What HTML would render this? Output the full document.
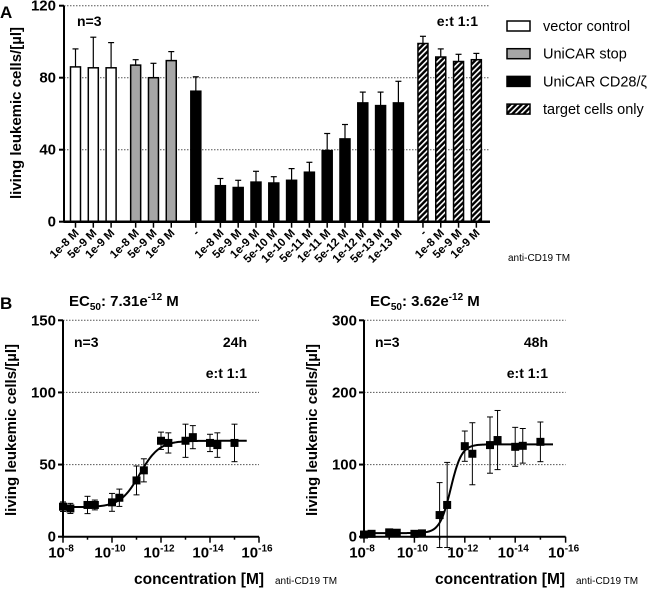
<!DOCTYPE html>
<html><head><meta charset="utf-8">
<style>
body{margin:0;background:#fff;width:650px;height:590px;overflow:hidden}
svg{display:block;font-family:"Liberation Sans",Arial,sans-serif}
</style></head>
<body>
<svg id="fig" width="650" height="590">
<defs>
<pattern id="hatch" patternUnits="userSpaceOnUse" width="4" height="4" patternTransform="rotate(45)">
<rect width="4" height="4" fill="#000"/><rect x="0" width="1.6" height="4" fill="#fff"/>
</pattern>
</defs>
</svg>
<script>
// ---------- Panel A data ----------
const groupTypes = ["vector", "stop", "cd28", "cd28", "target"];
const groupLabels = [
  ["1e-8 M","5e-9 M","1e-9 M"],
  ["1e-8 M","5e-9 M","1e-9 M"],
  ["-"],
  ["1e-8 M","5e-9 M","1e-9 M","5e-10 M","1e-10 M","5e-11 M","1e-11 M","5e-12 M","1e-12 M","5e-13 M","1e-13 M"],
  ["-","1e-8 M","5e-9 M","1e-9 M"]
];
const groupValues = [
  [86,85.5,85.5],
  [87,80,89.5],
  [72.5],
  [20,19,22,21.5,23,27.5,39.5,46,66,64.5,66],
  [99,91.5,89,90]
];
const groupErrors = [
  [10,17,14],
  [3,8,5],
  [8],
  [4,4,6,3.5,6.5,5.5,9.5,8,6,7.5,12],
  [4,4.5,4,3.5]
];
const aTicks = [0,40,80,120];
const legendLabels = ["vector control","UniCAR stop","UniCAR CD28/ζ","target cells only"];

// ---------- Panel B data ----------
const bConcLog = [-8,-8.3,-9,-9.3,-10,-10.3,-11,-11.3,-12,-12.3,-13,-13.3,-14,-14.3,-15];
const b24Values = [20.8,19.6,22,22,23.8,27,39,46,66.5,65,66.5,69,65,63.5,65];
const b24Errors = [3.3,3.5,6,3.4,6.2,6,10,8,6,7,11.5,8,6,8.5,13];
const b48Values = [3,4,6,5.5,4,4.6,30,44,125.5,115,127,134,124.6,126,131.5];
const b48Errors = [0,0,0,0,0,0,45,59,21,43,39,41,27,24,27.5];
const b24Fit = {bottom:20.5, top:66.5, logEC50:-11.136, hill:1.1};
const b48Fit = {bottom:5, top:128, logEC50:-11.44, hill:2.0};
const b24Ticks = [0,50,100,150];
const b48Ticks = [0,100,200,300];
const xExpTicks = [-8,-10,-12,-14,-16];

const svg = document.getElementById('fig');
const NS = "http://www.w3.org/2000/svg";
function mk(tag, attrs, parent){
  const e = document.createElementNS(NS, tag);
  for (const k in attrs) e.setAttribute(k, attrs[k]);
  (parent||svg).appendChild(e);
  return e;
}
function txt(x,y,s,size,weight,anchor,parent){
  const t = mk('text',{x:x,y:y,'font-size':size,'font-weight':weight||'normal','text-anchor':anchor||'start',fill:'#000'},parent);
  t.textContent = s;
  return t;
}

// ===== Panel A =====
const gA = mk('g',{});


const aX0 = 64, aX1 = 490, aY0 = 221.7, aYTop = 5.7;
const ayS = v => aY0 - (v/120)*(aY0-aYTop);
const slot = 17.8, firstX = 75.5, gap = 0.38;
const tA = txt(0,18,'A',17,'bold','start',gA);


aTicks.forEach(v=>{
  if(v>0){
    const l = mk('line',{x1:aX0,x2:aX1,y1:ayS(v),y2:ayS(v),stroke:'#555','stroke-dasharray':'1.5,1.5','stroke-width':1},gA);
    
    
  }
  mk('line',{x1:aX0-5,x2:aX0,y1:ayS(v),y2:ayS(v),stroke:'#000','stroke-width':2},gA);
  const t = txt(aX0-8,ayS(v)+5,String(v),15,'bold','end',gA);
  
  
});
const fills = {vector:'#fff', stop:'#a6a6a6', cd28:'#000', target:'url(#hatch)'};
let k = 0;
groupValues.forEach((vals,gi)=>{
  if(gi>0) k += gap;
  vals.forEach((v,i)=>{
    const cx = firstX + k*slot;
    const bw = 10;
    const top = ayS(v+groupErrors[gi][i]);
    const el = mk('line',{x1:cx,x2:cx,y1:ayS(v),y2:top,stroke:'#000','stroke-width':1.2},gA);
    
    
    mk('line',{x1:cx-3,x2:cx+3,y1:top,y2:top,stroke:'#000','stroke-width':1.2},gA);
    const r = mk('rect',{x:cx-bw/2,y:ayS(v),width:bw,height:aY0-ayS(v),fill:fills[groupTypes[gi]],stroke:'#000','stroke-width':1.5},gA);
    
    
    mk('line',{x1:cx,x2:cx,y1:aY0,y2:aY0+6,stroke:'#000','stroke-width':1.5},gA);
    const lab = groupLabels[gi][i];
    const t = txt(0,0,lab,11.5,'bold','end',gA);
    t.setAttribute('transform','translate('+(cx+4)+','+(aY0+12)+') rotate(-45)');
    
    
    k++;
  });
});
mk('line',{x1:aX0,x2:aX0,y1:aYTop,y2:aY0+1,stroke:'#000','stroke-width':2},gA);
mk('line',{x1:aX0,x2:aX1,y1:aY0,y2:aY0,stroke:'#000','stroke-width':2.5},gA);
let t;
t = txt(0,0,'living leukemic cells/[µl]',15,'bold','middle',gA);
t.setAttribute('transform','translate(21,113) rotate(-90)');


t = txt(77,26,'n=3',14,'bold','start',gA);


t = txt(478,26,'e:t 1:1',14,'bold','end',gA);


t = txt(508,261,'anti-CD19 TM',10,'normal','start',gA);


const legFills = ['#fff','#a6a6a6','#000','url(#hatch)'];
legendLabels.forEach((s,i)=>{
  const y = 26 + i*27.7;
  const g = mk('g',{},gA);
  
  
  mk('rect',{x:507,y:y-5,width:23,height:10,fill:legFills[i],stroke:'#000','stroke-width':1.5},g);
  txt(543,y+5,s,14.5,'normal','start',g);
});

// ===== Panel B =====
function panelB(name, axX, perDec, vals, errs, fit, ticks, ymax, labels){
  const g = mk('g',{});
  
  
  const y0 = 536.7, yT = 320.3, xEnd = axX + 8*perDec;
  const xs = lg => axX + (-8 - lg) * perDec;
  const ys = v => y0 - v/ymax*(y0-yT);
  ticks.forEach(v=>{
    if(v>0){
      const l = mk('line',{x1:axX,x2:xEnd,y1:ys(v),y2:ys(v),stroke:'#555','stroke-dasharray':'1.5,1.5','stroke-width':1},g);
      
      
    }
    mk('line',{x1:axX-5,x2:axX,y1:ys(v),y2:ys(v),stroke:'#000','stroke-width':2},g);
    const tt = txt(axX-7,ys(v)+5,String(v),15,'bold','end',g);
    
    
  });
  for(let e=-8;e>=-16;e--){
    const major = (e%2===0);
    mk('line',{x1:xs(e),x2:xs(e),y1:y0,y2:y0+(major?6:3),stroke:'#000','stroke-width':1.5},g);
  }
  xExpTicks.forEach(e=>{
    const tt = mk('text',{x:xs(e)-2,y:y0+21,'font-size':15,'font-weight':'bold','text-anchor':'middle'},g);
    
    
    tt.appendChild(document.createTextNode('10'));
    const sp = document.createElementNS(NS,'tspan');
    sp.setAttribute('dy','-6'); sp.setAttribute('font-size','10');
    sp.textContent = String(e);
    tt.appendChild(sp);
  });
  let d='';
  for(let i=0;i<=200;i++){
    const lg = -8 - i*7.5/200;
    const v = fit.bottom + (fit.top-fit.bottom)/(1+Math.pow(10,(lg-fit.logEC50)*fit.hill));
    d += (i?'L':'M')+xs(lg).toFixed(2)+','+ys(v).toFixed(2);
  }
  const c = mk('path',{d:d,fill:'none',stroke:'#000','stroke-width':2},g);
  
  
  bConcLog.forEach((lg,i)=>{
    const cx = xs(lg), v = vals[i], e = errs[i];
    if(e>0){
      const eb = mk('line',{x1:cx,x2:cx,y1:ys(v-e),y2:ys(v+e),stroke:'#000','stroke-width':1},g);
      
      
      mk('line',{x1:cx-3,x2:cx+3,y1:ys(v+e),y2:ys(v+e),stroke:'#000','stroke-width':1},g);
      mk('line',{x1:cx-3,x2:cx+3,y1:ys(v-e),y2:ys(v-e),stroke:'#000','stroke-width':1},g);
    }
    const p = mk('rect',{x:cx-4,y:ys(v)-4,width:8,height:8,fill:'#000'},g);
    
    
  });
  mk('line',{x1:axX,x2:axX,y1:yT,y2:y0+1,stroke:'#000','stroke-width':2},g);
  mk('line',{x1:axX,x2:xEnd,y1:y0,y2:y0,stroke:'#000','stroke-width':2},g);
  let tt = txt(0,0,'living leukemic cells/[µl]',15,'bold','middle',g);
  tt.setAttribute('transform','translate('+(axX-47)+',430) rotate(-90)');
  
  
  tt = txt(axX+71,584,'concentration [M]',15.5,'bold','start',g);
  
  
  tt = txt(axX+212,584,'anti-CD19 TM',10,'normal','start',g);
  
  
  tt = txt(axX+11,347,'n=3',14,'bold','start',g);
  
  
  tt = txt(axX+184,347,labels.time,14,'bold','end',g);
  
  
  tt = txt(axX+184,378,'e:t 1:1',14,'bold','end',g);
  
  
  tt = mk('text',{x:axX+6,y:306,'font-size':15,'font-weight':'bold'},g);
  
  
  tt.appendChild(document.createTextNode('EC'));
  let s1 = document.createElementNS(NS,'tspan'); s1.setAttribute('dy','4'); s1.setAttribute('font-size','10'); s1.textContent='50'; tt.appendChild(s1);
  let s2 = document.createElementNS(NS,'tspan'); s2.setAttribute('dy','-4'); s2.textContent=': '+labels.ec; tt.appendChild(s2);
  let s3 = document.createElementNS(NS,'tspan'); s3.setAttribute('dy','-6'); s3.setAttribute('font-size','10'); s3.textContent='-12'; tt.appendChild(s3);
  let s4 = document.createElementNS(NS,'tspan'); s4.setAttribute('dy','6'); s4.textContent=' M'; tt.appendChild(s4);
}
t = txt(0,309,'B',17,'bold','start');


panelB('dose-response-24h',63,24.5,b24Values,b24Errors,b24Fit,b24Ticks,150,{time:'24h',ec:'7.31e'});
panelB('dose-response-48h',364,25.2,b48Values,b48Errors,b48Fit,b48Ticks,300,{time:'48h',ec:'3.62e'});
</script>
</body></html>
